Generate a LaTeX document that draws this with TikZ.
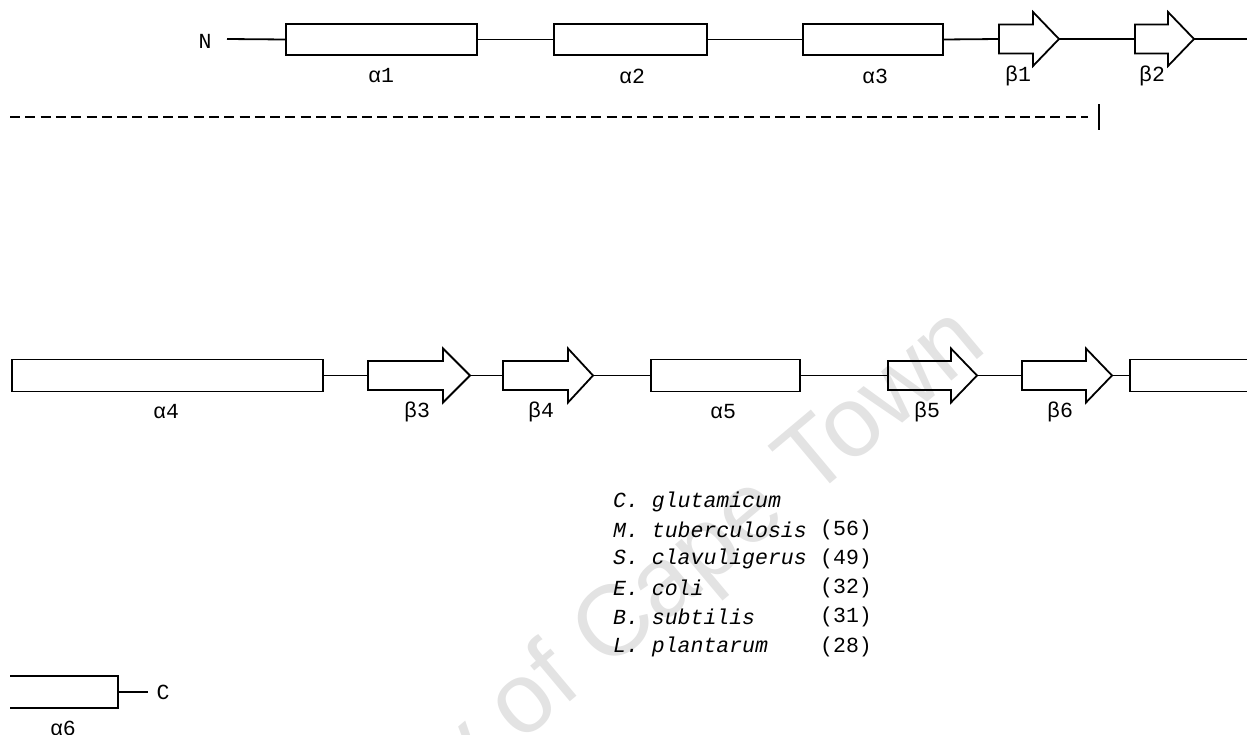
\documentclass[tikz,border=0pt]{standalone}
\usepackage{fontspec}
\setmainfont{Liberation Mono}
\newfontfamily\wmfont{Liberation Sans}
\newcommand\strandshape[5]{%
  \coordinate (#1s) at (#2,#5);
  \coordinate (#1t) at (#4,#5);
  \draw[strandline] (#2,#5-14.5) -- (#3,#5-14.5) -- (#3,#5-27) -- (#4,#5)
    -- (#3,#5+27) -- (#3,#5+14.5) -- (#2,#5+14.5) -- cycle;
}
\begin{document}
\begin{tikzpicture}[x=1pt,y=-1pt,
  helix/.style={draw, line width=1.8pt, minimum height=31pt, inner sep=0pt, outer sep=0pt},
  strandline/.style={draw, line width=1.8pt, line join=miter},
  loopline/.style={line width=1.8pt},
  lab/.style={font=\fontsize{21.5}{21.5}\selectfont, inner sep=0pt},
  spec/.style={font=\fontsize{21.5}{21.5}\selectfont\itshape, inner sep=0pt, anchor=west},
  num/.style={font=\fontsize{21.5}{21.5}\selectfont, inner sep=0pt, anchor=west},
  sepline/.style={line width=1.4pt, dash pattern=on 10pt off 5.3pt},
  wm/.style={font=\wmfont\fontsize{100}{100}\selectfont, text=black!11, inner sep=0pt}
]
\useasboundingbox (0,0) rectangle (1247,734);
% watermark
\node[wm, rotate=40, anchor=east] (wmark) at (973,330) {University of Cape Town};

% ---- top row ----
\node[lab] (N) at (205,41) {N};
\coordinate (n0) at (227,39);
\node[helix, minimum width=191pt] (a1) at (381.5,39.5) {};
\node[helix, minimum width=153pt] (a2) at (630.5,39.5) {};
\node[helix, minimum width=140pt] (a3) at (873,39.5) {};
\strandshape{b1}{999}{1033}{1059}{39}
\strandshape{b2}{1135}{1168}{1194}{39}
\coordinate (r1end) at (1248,39);
\draw[loopline] (n0) -- (a1.west);
\draw[loopline] (a1.east) -- (a2.west);
\draw[loopline] (a2.east) -- (a3.west);
\draw[loopline] (a3.east) -- (b1s);
\draw[loopline] (b1t) -- (b2s);
\draw[loopline] (b2t) -- (r1end);
\node[lab] (la1) at (381,76) {α1};
\node[lab] (la2) at (632,76) {α2};
\node[lab] (la3) at (875,76) {α3};
\node[lab] (lb1) at (1018,76) {β1};
\node[lab] (lb2) at (1152,76) {β2};

% separator
\coordinate (d0) at (10,117);
\coordinate (d1) at (1088,117);
\draw[sepline] (d0) -- (d1);
\coordinate (bar0) at (1099,104);
\coordinate (bar1) at (1099,130);
\draw[line width=1.4pt] (bar0) -- (bar1);

% ---- second row ----
\node[helix, minimum width=311pt, minimum height=32pt] (a4) at (167.5,375.5) {};
\strandshape{b3}{368}{443}{470}{375.5}
\strandshape{b4}{503}{568}{593}{375.5}
\node[helix, minimum width=149pt, minimum height=32pt] (a5) at (725.5,375.5) {};
\strandshape{b5}{888}{951}{977}{375.5}
\strandshape{b6}{1022}{1086}{1112}{375.5}
\coordinate (a6w) at (1130,375.5);
\draw[strandline] (1250,359.5) -- (1130,359.5) -- (1130,391.5) -- (1250,391.5);
\draw[loopline] (a4.east) -- (b3s);
\draw[loopline] (b3t) -- (b4s);
\draw[loopline] (b4t) -- (a5.west);
\draw[loopline] (a5.east) -- (b5s);
\draw[loopline] (b5t) -- (b6s);
\draw[loopline] (b6t) -- (a6w);
\node[lab] (la4) at (166,412) {α4};
\node[lab] (lb3) at (417,412) {β3};
\node[lab] (lb4) at (541,412) {β4};
\node[lab] (la5) at (723,412) {α5};
\node[lab] (lb5) at (927,412) {β5};
\node[lab] (lb6) at (1060,412) {β6};

% ---- third row ----
\draw[strandline] (10,676) -- (118,676) -- (118,708) -- (10,708);
\coordinate (a6e) at (118,692);
\coordinate (c0) at (148,692);
\draw[loopline] (a6e) -- (c0);
\node[lab] (C) at (163,692) {C};
\node[lab] (la6) at (63,728) {α6};

% ---- species list ----
\node[spec] (s1) at (613,502) {C. glutamicum};
\node[spec] (s2) at (613,530) {M. tuberculosis};
\node[spec] (s3) at (613,559) {S. clavuligerus};
\node[spec] (s4) at (613,588) {E. coli};
\node[spec] (s5) at (613,617) {B. subtilis};
\node[spec] (s6) at (613,647) {L. plantarum};
\node[num] (p2) at (820,530) {(56)};
\node[num] (p3) at (820,559) {(49)};
\node[num] (p4) at (820,588) {(32)};
\node[num] (p5) at (820,617) {(31)};
\node[num] (p6) at (820,647) {(28)};
\end{tikzpicture}
\end{document}
